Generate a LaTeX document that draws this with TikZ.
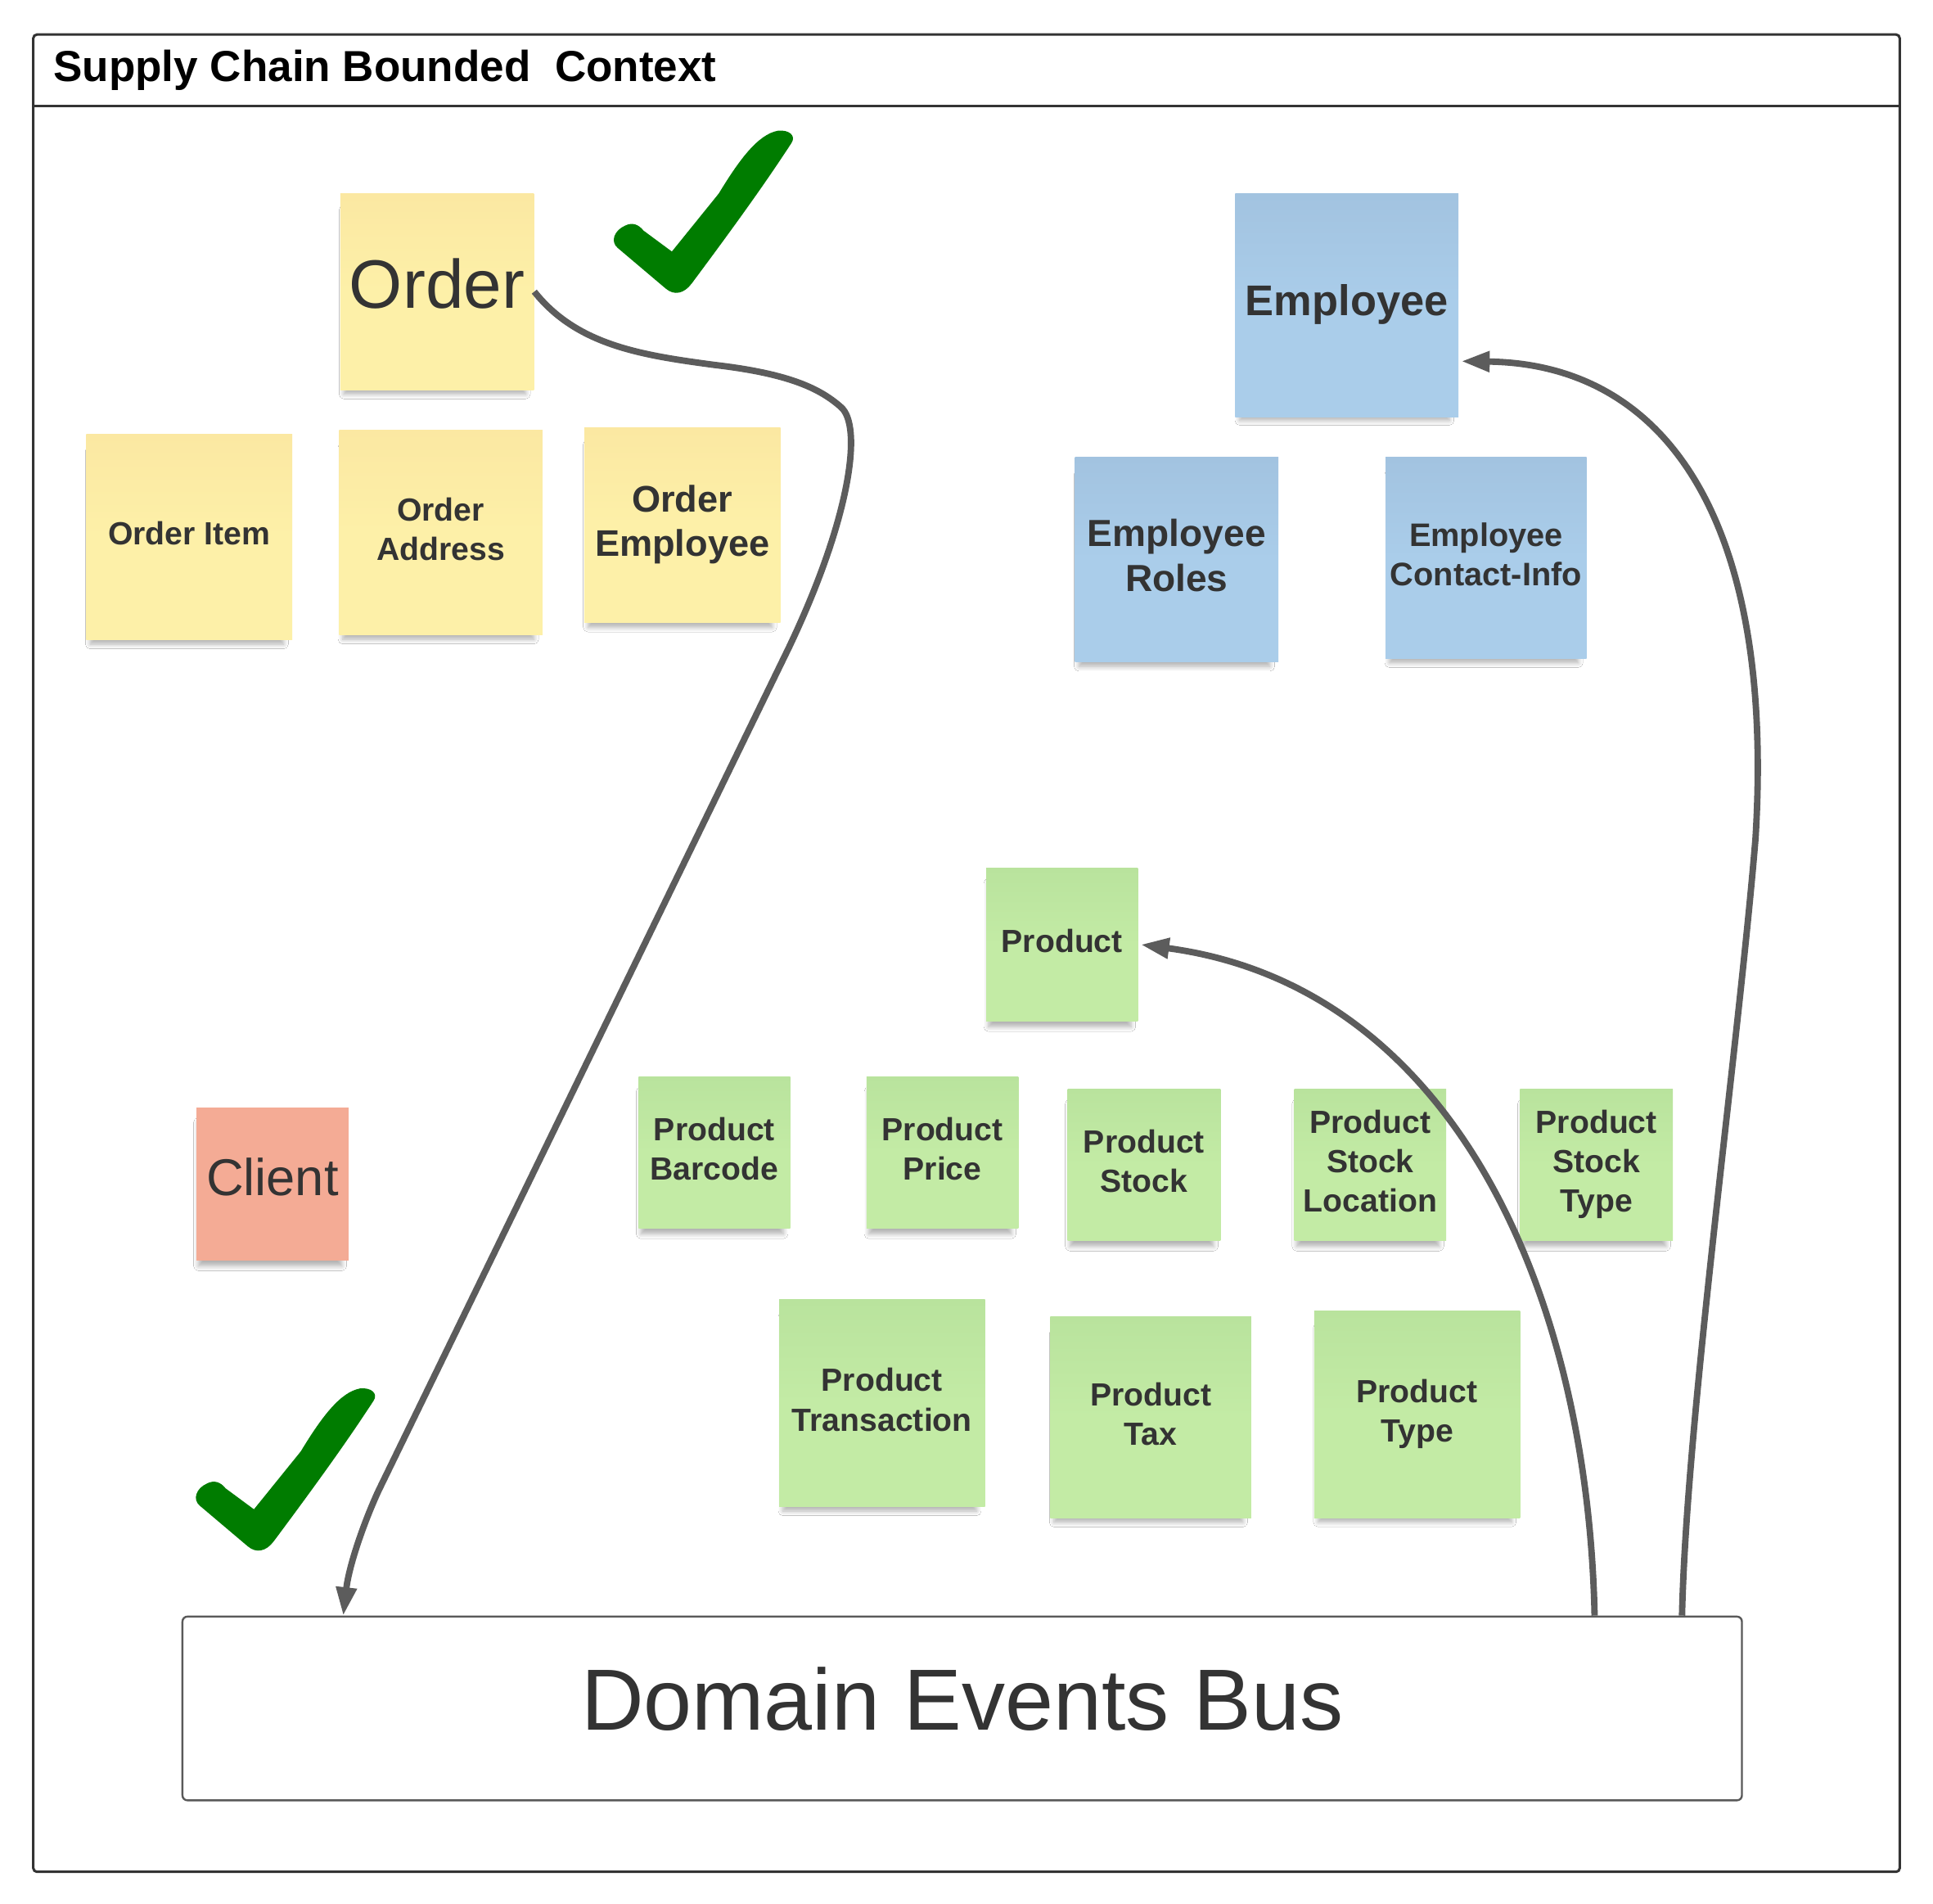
\documentclass[tikz,border=0pt]{standalone}
\usepackage{fontspec}
\setmainfont{Liberation Sans}
\usetikzlibrary{arrows.meta,calc,shadows.blur}
\definecolor{txt}{HTML}{333333}
\definecolor{conncol}{HTML}{5C5C5C}
\definecolor{framecol}{HTML}{333333}
\definecolor{busline}{HTML}{5A5A5A}
\definecolor{ytop}{HTML}{FBE8A2}
\definecolor{ybot}{HTML}{FDF0A8}
\definecolor{btop}{HTML}{A2C3E0}
\definecolor{bbot}{HTML}{AACDEA}
\definecolor{gtop}{HTML}{B9E39D}
\definecolor{gbot}{HTML}{C3EBA5}
\definecolor{rcol}{HTML}{F4AB95}
\definecolor{ckgreen}{RGB}{0,124,0}
\newcommand\liftt[2]{\raisebox{#1}{\begin{tabular}{@{}c@{}}#2\end{tabular}}}
\tikzset{
  stickybase/.style={rectangle, inner sep=0pt, align=center, text=txt,
    blur shadow={shadow xshift=-1pt, shadow yshift=-4.5pt, shadow scale=0.94, shadow opacity=30, shadow blur steps=6, shadow blur radius=2pt}},
  ystick/.style={stickybase, top color=ytop, bottom color=ybot, middle color=ybot},
  bstick/.style={stickybase, top color=btop, bottom color=bbot, middle color=bbot},
  gstick/.style={stickybase, top color=gtop, bottom color=gbot, middle color=gbot},
  rstick/.style={stickybase, fill=rcol},
  sz/.style 2 args={minimum width=#1*0.5pt, minimum height=#2*0.5pt},
  boldtxt/.style 2 args={font=\bfseries\fontsize{#1}{#2}\selectfont},
  conn/.style={draw=conncol, line width=2.6pt, -{Triangle[length=11.5pt,width=8pt]}},
  checkpic/.pic={
    \fill[ckgreen] (0,0) -- (38,-47) .. controls (55,-75) and (70,-95) .. (86,-98)
      .. controls (95,-99) and (101,-94) .. (97,-88)
      .. controls (80,-62) and (60,-33) .. (16,26)
      .. controls (10,34) and (2,36) .. (-5,30)
      -- (-44,-3) .. controls (-50,-8) and (-47,-17) .. (-38,-21)
      .. controls (-32,-24) and (-27,-22) .. (-23,-17) -- cycle;
  }
}
\begin{document}
\begin{tikzpicture}[x=0.5pt,y=-0.5pt]
\useasboundingbox (0,0) rectangle (1568,1544);
\fill[white] (0,0) rectangle (1568,1544);

% outer frame
\draw[framecol, line width=1pt, rounded corners=1.5pt] (27,28) rectangle (1541,1518);
\draw[framecol, line width=1pt] (27,86) -- (1541,86);
\node[anchor=base west, inner sep=0pt, font=\bfseries\fontsize{17.6}{20}\selectfont] (title) at (43,66) {Supply Chain Bounded\ \ Context};

% yellow stickies
\node[ystick, sz={157}{159}, font=\fontsize{27.8}{32}\selectfont] (order) at (354.5,236.5) {\raisebox{7pt}{Order}};
\node[ystick, sz={167}{167}, boldtxt={13}{16}] (orderitem) at (153.5,435.5) {\liftt{1.5pt}{Order Item}};
\node[ystick, sz={165}{166}, boldtxt={13}{16}] (orderaddr) at (357.5,432) {\liftt{4pt}{Order\\Address}};
\node[ystick, sz={159}{158}, boldtxt={15}{18}] (orderemp) at (553.5,426) {\liftt{1.5pt}{Order\\Employee}};

% blue stickies
\node[bstick, sz={181}{181}, boldtxt={17.4}{21}] (employee) at (1092.5,247.5) {\liftt{0.5pt}{Employee}};
\node[bstick, sz={165}{166}, boldtxt={15.3}{18.5}] (emproles) at (954.5,454) {\liftt{2.5pt}{Employee\\Roles}};
\node[bstick, sz={163}{163}, boldtxt={13.2}{16}] (empcontact) at (1205.5,452.5) {\liftt{2pt}{Employee\\Contact-Info}};

% green stickies
\node[gstick, sz={123}{124}, boldtxt={13}{16}] (product) at (861.5,766) {\liftt{1pt}{Product}};
\node[gstick, sz={123}{123}, boldtxt={13}{16}] (barcode) at (579.5,934.5) {\liftt{1pt}{Product\\Barcode}};
\node[gstick, sz={123}{123}, boldtxt={13}{16}] (price) at (764.5,934.5) {\liftt{1pt}{Product\\Price}};
\node[gstick, sz={124}{123}, boldtxt={13}{16}] (stock) at (928,944.5) {\liftt{1pt}{Product\\Stock}};
\node[gstick, sz={123}{123}, boldtxt={13}{16}] (stockloc) at (1111.5,944.5) {\liftt{1pt}{Product\\Stock\\Location}};
\node[gstick, sz={124}{123}, boldtxt={13}{16}] (stocktype) at (1295,944.5) {\liftt{1pt}{Product\\Stock\\Type}};
\node[gstick, sz={167}{168}, boldtxt={13}{16}] (transaction) at (715.5,1138) {\liftt{1.8pt}{Product\\Transaction}};
\node[gstick, sz={163}{163}, boldtxt={13}{16}] (tax) at (933.5,1149.5) {\liftt{1.8pt}{Product\\Tax}};
\node[gstick, sz={167}{168}, boldtxt={13}{16}] (ptype) at (1149.5,1147) {\liftt{1.8pt}{Product\\Type}};

% client
\node[rstick, sz={124}{124}, font=\fontsize{21}{24}\selectfont] (client) at (221,960) {\raisebox{5.5pt}{Client}};

% bus
\node[draw=busline, line width=0.8pt, rounded corners=2pt, fill=white, sz={1265}{149}, inner sep=0pt, text=txt, font=\fontsize{35.2}{40}\selectfont] (bus) at (780.5,1385.5) {\raisebox{8pt}{Domain Events Bus}};

% check marks
\pic at (545,204) {checkpic};
\pic at (206,1224) {checkpic};

% connection points
\coordinate (busA) at ($(bus.north west)!0.1036!(bus.north east)$);
\coordinate (busB) at ($(bus.north west)!0.905!(bus.north east)$);
\coordinate (busC) at ($(bus.north west)!0.961!(bus.north east)$);
\coordinate (empin) at ($(employee.south east)!0.25!(employee.north east)$);

% connectors
\draw[conn] (order.east) .. controls (468,280) and (520,288) .. (580,296)
  .. controls (640,303) and (665,315) .. (682,330)
  .. controls (700,345) and (690,420) .. (640,525)
  -- (307,1209) .. controls (295,1235) and (283,1270) .. (busA);
\draw[conn] (busB) .. controls (1288,1050) and (1180,800) .. ([xshift=1pt]product.east);
\draw[conn] (busC) .. controls (1368,1150) and (1410,850) .. (1424,680)
  .. controls (1440,420) and (1350,295) .. ([xshift=1pt]empin);
\end{tikzpicture}
\end{document}
